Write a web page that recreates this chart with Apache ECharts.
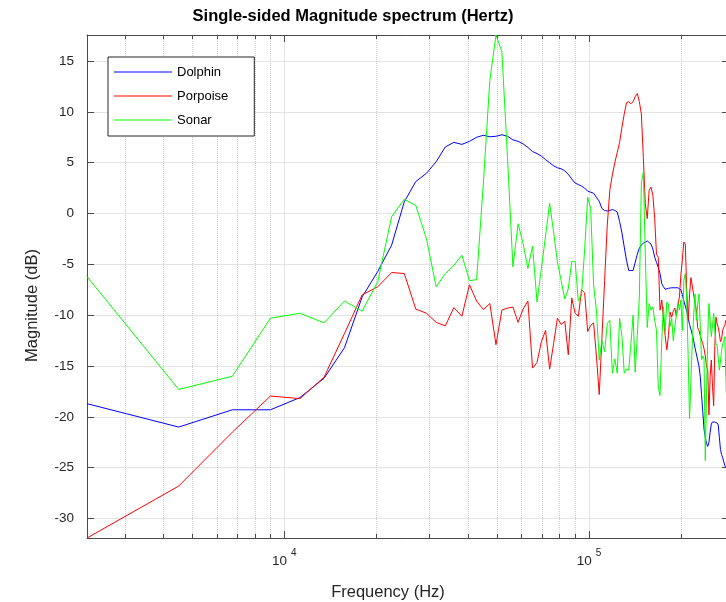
<!DOCTYPE html>
<html>
<head>
<meta charset="utf-8">
<script src="https://cdn.jsdelivr.net/npm/echarts@6/dist/echarts.min.js"></script>
<style>
  html, body { margin: 0; padding: 0; background: #fff; }
  #chart { width: 726px; height: 602px; }
</style>
</head>
<body>
<div id="chart"></div>
<script>
// FFT bin spacing (Hz) - one point per bin, 128 bins
var binStep = 2250;

var dolphin = [
  -18.7, -21.0, -19.3, -19.3, -18.1, -16.2, -13.2, -8.2, -5.7, -3.1,
  1.15, 3.15, 3.95, 5.1, 6.55, 7.0, 6.8, 7.1, 7.5, 7.7,
  7.55, 7.6, 7.75, 7.6, 7.25, 7.1, 6.85, 6.5, 6.1, 5.9,
  5.65, 5.3, 5.0, 4.7, 4.5, 4.4, 4.2, 3.85, 3.4, 3.0,
  2.85, 2.7, 2.5, 2.2, 2.1, 2.0, 1.6, 1.2, 0.5, 0.3,
  0.25, 0.3, 0.4, 0.3, 0.15, -0.8, -1.9, -3.3, -4.6, -5.6,
  -5.6, -5.6, -4.8, -4.0, -3.4, -3.1, -2.9, -2.75, -2.7, -2.85,
  -3.0, -3.5, -4.3, -4.8, -5.3, -5.9, -6.9, -7.2, -7.45, -7.4,
  -7.35, -7.3, -7.3, -7.3, -7.3, -7.3, -7.3, -7.35, -7.5, -8.0,
  -8.6, -9.1, -9.6, -10.3, -10.9, -11.4, -11.9, -12.5, -13.2, -13.8,
  -14.4, -15.0, -16.0, -17.8, -19.5, -21.2, -22.0, -22.6, -22.9, -22.5,
  -21.5, -20.7, -20.5, -20.5, -20.5, -20.6, -20.6, -20.8, -22.0, -23.2,
  -23.7, -24.0, -24.4, -24.8, -25.0, -25.0, -24.8, -24.7
];

var porpoise = [
  -31.91, -26.8, -21.5, -17.95, -18.2, -16.1, -11.8, -8.0, -7.2, -5.8,
  -5.9, -9.4, -9.8, -10.7, -11.05, -9.25, -10.1, -7.0, -8.6, -9.45,
  -8.85, -12.9, -9.5, -9.3, -9.2, -10.7, -9.4, -8.6, -15.2, -14.65,
  -12.6, -11.5, -15.3, -12.8, -10.3, -10.9, -10.6, -13.9, -8.3, -9.8,
  -10.1, -7.5, -7.8, -11.6, -11.0, -10.75, -14.0, -17.8, -12.2, -6.6,
  -1.2, 2.3, 3.8, 5.0, 6.0, 7.0, 8.5, 9.8, 10.9, 11.0,
  10.8, 11.0, 11.5, 11.8, 11.0, 9.8, 5.5, 1.0, -0.5, 2.3,
  2.6, 1.8, -0.5, -4.0, -4.3, -9.5, -8.5, -8.5, -12.0, -13.4,
  -12.0, -9.7, -10.2, -9.6, -9.3, -10.1, -9.0, -8.2, -6.0, -4.5,
  -2.8, -3.0, -7.5, -10.5, -8.0, -6.3, -6.2, -8.0, -7.9, -9.5,
  -11.2, -11.5, -12.0, -12.1, -12.8, -13.3, -14.0, -15.0, -15.4, -19.8,
  -16.0, -14.4, -17.0, -18.9, -13.0, -10.2, -10.8, -11.2, -11.8, -12.6,
  -12.4, -11.5, -11.2, -11.0, -10.5, -11.0, -11.5, -12.0
];

var sonar = [
  -6.2, -17.3, -16.0, -10.3, -9.8, -10.75, -8.6, -9.6, -6.7, -0.3,
  1.4, 0.8, -2.45, -7.2, -5.9, -5.1, -4.1, -6.6, -6.5, 3.0,
  13.1, 17.56, 15.9, 5.5, -5.25, -1.0, -2.95, -5.4, -3.2, -8.7,
  -5.4, -2.2, 1.0, -1.8, -4.75, -6.6, -8.4, -7.4, -4.7, -4.7,
  -8.6, -8.0, -3.5, 1.6, 0.5, -7.0, -9.5, -14.4, -12.5, -13.6,
  -10.8, -10.5, -15.7, -14.3, -15.7, -10.3, -12.1, -15.7, -15.3, -15.4,
  -12.8, -10.0, -15.6, -12.0, -8.2, 3.0, 4.1, -4.0, -11.2, -8.85,
  -9.5, -9.2, -10.5, -11.5, -17.05, -17.9, -12.5, -9.2, -11.6, -8.7,
  -8.9, -11.1, -10.3, -12.5, -11.1, -10.0, -8.85, -9.5, -8.5, -11.5,
  -6.55, -5.9, -8.5, -14.0, -20.2, -16.4, -12.8, -10.0, -7.9, -10.5,
  -9.0, -7.9, -11.0, -14.4, -14.0, -14.3, -24.3, -17.7, -12.0, -8.85,
  -10.5, -12.1, -11.0, -9.8, -11.5, -12.8, -13.0, -14.2, -15.4, -14.5,
  -13.5, -12.8, -12.5, -12.1, -16.0, -19.3, -17.0, -15.0
];

var seriesNames = ['Dolphin', 'Porpoise', 'Sonar'];
var seriesColors = ['#0000ff', '#ff0000', '#00ff00'];

// minor (dotted) log grid positions
var minorFreqs = [3000, 4000, 5000, 6000, 7000, 8000, 9000,
  20000, 30000, 40000, 50000, 60000, 70000, 80000, 90000, 200000];

var xMin = 2250, xMax = 288000;
var yMin = -31.91, yMax = 17.56;

var font = 'Liberation Sans, Arial, Helvetica, sans-serif';
var axisCol = '#4a4a4a';
var textCol = '#262626';

function toPairs(vals) {
  return vals.map(function (v, i) { return [(i + 1) * binStep, v]; });
}

var logMin = Math.log10(xMin), logMax = Math.log10(xMax);
var minorLog = minorFreqs.map(function (f) { return Math.log10(f); });

function decadeLabel(v) {
  var e = Math.log10(v);
  if (Math.abs(e - Math.round(e)) > 1e-6) return '';
  return '{b|10}{e|' + Math.round(e) + '}';
}

var chart = echarts.init(document.getElementById('chart'), null, { renderer: 'canvas' });

var option = {
  animation: false,
  backgroundColor: '#fff',
  title: {
    text: 'Single-sided Magnitude spectrum (Hertz)',
    left: 353,
    textAlign: 'center',
    top: 8,
    padding: 0,
    textStyle: { fontFamily: font, fontSize: 16.5, fontWeight: 'bold', color: '#000' }
  },
  legend: {
    data: seriesNames,
    orient: 'vertical',
    left: 108,
    top: 57,
    icon: 'rect',
    itemWidth: 58,
    itemHeight: 1,
    itemGap: 10,
    padding: [8, 26, 9, 6],
    borderColor: '#262626',
    borderWidth: 1,
    backgroundColor: '#fff',
    textStyle: { fontFamily: font, fontSize: 13, color: '#000', lineHeight: 14 }
  },
  grid: { left: 87, top: 35, width: 642, height: 503, containLabel: false, outerBoundsMode: 'none' },
  xAxis: [
    {
      type: 'log', logBase: 10, min: xMin, max: xMax, position: 'bottom',
      name: 'Frequency (Hz)', nameLocation: 'middle', nameGap: 46,
      nameTextStyle: { fontFamily: font, fontSize: 16.5, color: textCol, padding: [0, 40, 0, 0] },
      axisLine: { show: true, onZero: false, lineStyle: { color: axisCol, width: 1 } },
      axisTick: { show: true, inside: true, length: 7, lineStyle: { color: axisCol } },
      axisLabel: {
        formatter: decadeLabel, margin: 10,
        rich: {
          b: { fontFamily: font, fontSize: 13.5, color: textCol, lineHeight: 26 },
          e: { fontFamily: font, fontSize: 10, color: textCol, verticalAlign: 'top', padding: [0, 0, 0, 4] }
        }
      },
      splitLine: { show: true, lineStyle: { color: '#e3e3e3', width: 1 } }
    },
    {
      type: 'value', min: logMin, max: logMax, position: 'bottom',
      axisLine: { show: false, onZero: false },
      axisTick: { show: true, inside: true, length: 4, customValues: minorLog, lineStyle: { color: axisCol } },
      axisLabel: { show: false },
      splitLine: { show: true, lineStyle: { color: '#cccccc', type: 'dotted', width: 1 } }
    },
    {
      type: 'log', logBase: 10, min: xMin, max: xMax, position: 'top',
      axisLine: { show: true, onZero: false, lineStyle: { color: axisCol, width: 1 } },
      axisTick: { show: true, inside: true, length: 7, lineStyle: { color: axisCol } },
      axisLabel: { show: false },
      splitLine: { show: false }
    },
    {
      type: 'value', min: logMin, max: logMax, position: 'top',
      axisLine: { show: false, onZero: false },
      axisTick: { show: true, inside: true, length: 4, customValues: minorLog, lineStyle: { color: axisCol } },
      axisLabel: { show: false },
      splitLine: { show: false }
    }
  ],
  yAxis: [
    {
      type: 'value', min: yMin, max: yMax, splitNumber: 10, position: 'left',
      name: 'Magnitude (dB)', nameLocation: 'middle', nameGap: 46, nameRotate: 90,
      nameTextStyle: { fontFamily: font, fontSize: 16.5, color: textCol, padding: [0, 38, 0, 0] },
      axisLine: { show: true, onZero: false, lineStyle: { color: axisCol, width: 1 } },
      axisTick: { show: true, inside: true, length: 7, lineStyle: { color: axisCol } },
      axisLabel: {
        margin: 13, fontFamily: font, fontSize: 13.5, color: textCol,
        formatter: function (v) { return Math.abs(v % 5) < 1e-6 ? String(v) : ''; }
      },
      splitLine: { show: true, lineStyle: { color: '#e3e3e3', width: 1 } }
    },
    {
      type: 'value', min: yMin, max: yMax, splitNumber: 10, position: 'right',
      axisLine: { show: true, onZero: false, lineStyle: { color: axisCol, width: 1 } },
      axisTick: { show: true, inside: true, length: 7, lineStyle: { color: axisCol } },
      axisLabel: { show: false },
      splitLine: { show: false }
    }
  ],
  series: [dolphin, porpoise, sonar].map(function (vals, i) {
    return {
      name: seriesNames[i],
      type: 'line',
      xAxisIndex: 0,
      yAxisIndex: 0,
      data: toPairs(vals),
      symbol: 'none',
      showSymbol: false,
      color: seriesColors[i],
      lineStyle: { color: seriesColors[i], width: 1 },
      clip: true,
      z: 3 + i
    };
  })
};

chart.setOption(option);
</script>
</body>
</html>
